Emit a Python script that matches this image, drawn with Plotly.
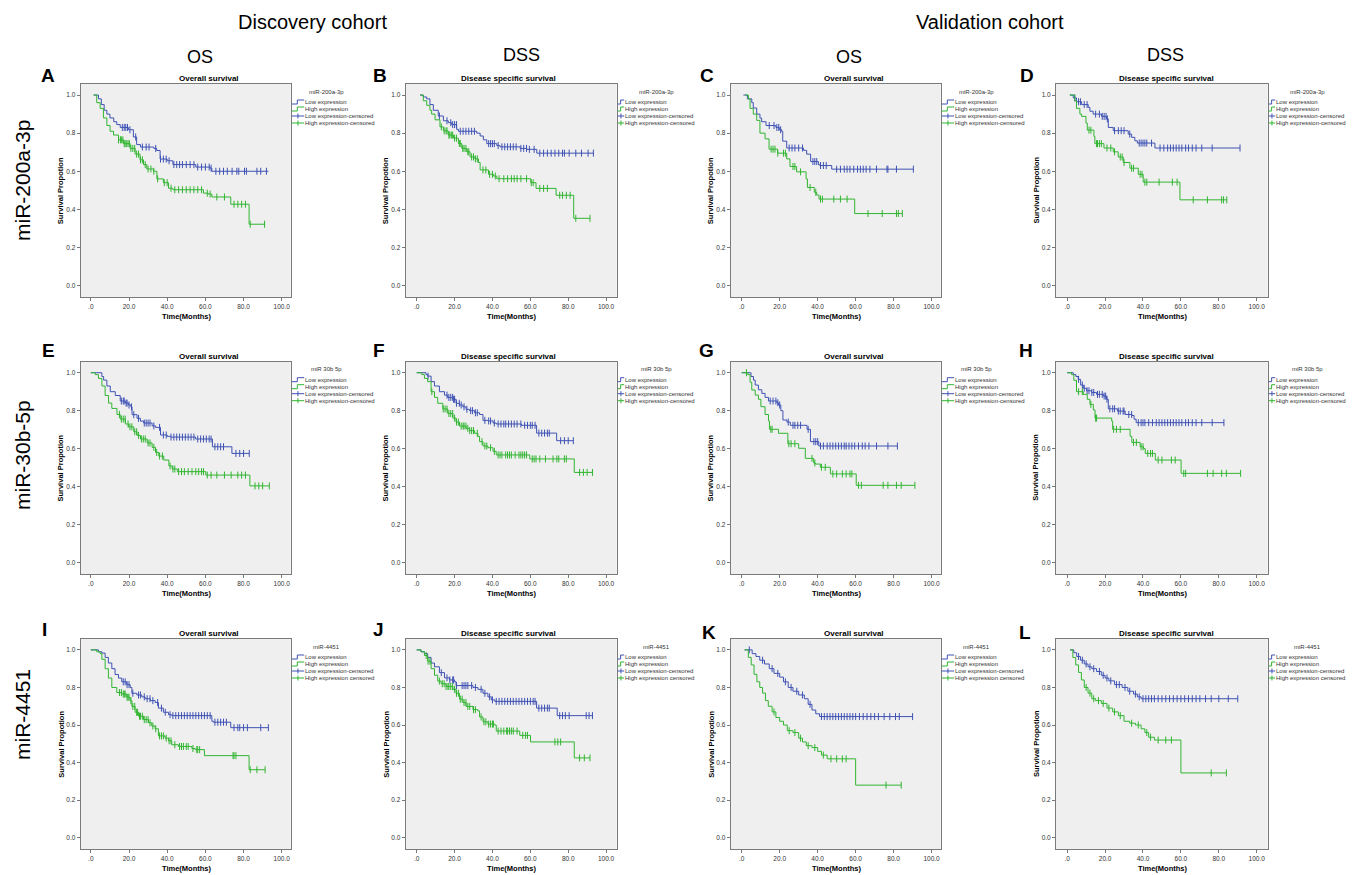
import plotly.graph_objects as go

W, H = 1358, 875
BLUE = '#3f52b4'
GREEN = '#31b531'
FONT = 'Arial, Liberation Sans, sans-serif'

# ---------------- data: step times (months), survival after step, censor times ----------------
# Panel A  (miR-200a-3p, discovery, OS)
A_low_range = (1.5, 93.0)
A_low_t = [4, 5.5, 7, 8.4, 10, 12, 13.6, 15.4, 19.7, 22.3, 24, 26, 33, 34.5, 36.3, 40, 43, 55, 62.5, 63.4]
A_low_s = [0.98, 0.95, 0.92, 0.90, 0.88, 0.86, 0.845, 0.83, 0.818, 0.78, 0.74, 0.727, 0.72, 0.709, 0.664, 0.655, 0.635, 0.622, 0.616, 0.60]
A_low_c = [16.5, 17.5, 18.3, 19.2, 20.5, 23.5, 27, 29, 30.5, 34, 36.5, 38, 39.5, 41, 43.5, 45, 46.5, 48, 50, 52, 54, 56, 58, 60, 62, 63, 65.5, 67.5, 69.5, 71.5, 74, 76.5, 77.5, 80.5, 81.5, 87, 89, 92]
A_high_range = (1.4, 91.3)
A_high_t = [3.1, 4.9, 6.6, 8.4, 10.1, 11.9, 14.5, 17.1, 20.6, 23.2, 25.8, 27.6, 29.3, 32.8, 34.6, 38, 40.7, 43, 59, 61.6, 63.4, 73.3, 82.9]
A_high_s = [0.96, 0.93, 0.88, 0.84, 0.81, 0.79, 0.765, 0.745, 0.72, 0.69, 0.66, 0.635, 0.612, 0.60, 0.56, 0.54, 0.511, 0.503, 0.485, 0.48, 0.465, 0.427, 0.322]
A_high_c = [14.5, 15.5, 16, 16.8, 17.5, 18, 18.8, 19.5, 20.2, 21, 22, 23, 24, 25, 26, 27, 28.5, 30, 31.5, 33, 35, 38.5, 40, 42, 44, 46, 48, 50, 52, 54, 56, 58, 61, 62.5, 66, 70, 75, 77, 79, 81, 83.5, 91]

# Panel B  (miR-200a-3p, discovery, DSS)
B_low_range = (1.8, 93.3)
B_low_t = [3.5, 5.3, 7, 8.8, 11.4, 14.1, 16.7, 18.5, 21.1, 22, 31.7, 33.5, 35.2, 37, 42.3, 44, 54.6, 58.1, 63.4]
B_low_s = [0.99, 0.98, 0.95, 0.92, 0.89, 0.865, 0.855, 0.845, 0.82, 0.81, 0.80, 0.785, 0.765, 0.745, 0.735, 0.728, 0.72, 0.715, 0.695]
B_low_c = [12, 16, 18, 19, 20, 21, 23, 24.5, 26, 27.5, 29, 30.5, 38, 39, 40, 41, 43, 45, 46.5, 48, 49.5, 51, 52.5, 55, 56.5, 58, 59.5, 62, 65, 67, 69, 71, 73, 75, 77, 78, 80.5, 84, 87, 90.5, 93.3]
B_high_range = (1.8, 91.5)
B_high_t = [3.5, 5.3, 7, 7.9, 9.7, 12.3, 14.1, 16.7, 19.4, 22, 23.8, 26.4, 28.2, 30.8, 32.6, 33.5, 37.9, 40.5, 42.3, 60.2, 63, 73.6, 82.9]
B_high_s = [0.97, 0.946, 0.92, 0.90, 0.87, 0.833, 0.812, 0.79, 0.774, 0.746, 0.72, 0.702, 0.675, 0.665, 0.646, 0.607, 0.584, 0.575, 0.561, 0.54, 0.51, 0.474, 0.353]
B_high_c = [13, 14.5, 15.5, 16, 17, 17.5, 18.3, 19, 20, 21, 22.5, 23, 24.3, 25, 26, 27, 27.5, 29, 30, 31, 32, 35, 36.5, 38.5, 40, 41.5, 43.5, 46, 48, 50, 51.5, 53, 55, 58, 60.5, 61.5, 65, 67, 69, 75.5, 77, 79, 81, 84, 91.5]

# Panel C  (miR-200a-3p, validation, OS)
C_low_range = (0.9, 90.4)
C_low_t = [3, 5.3, 6.1, 7.9, 9.6, 10.5, 12.8, 18, 19.8, 21, 21.6, 23.7, 32.5, 34.2, 36.3, 40.4, 41.2, 47.4]
C_low_s = [0.98, 0.96, 0.932, 0.90, 0.879, 0.86, 0.84, 0.83, 0.818, 0.81, 0.758, 0.722, 0.71, 0.69, 0.651, 0.634, 0.63, 0.611]
C_low_c = [14.5, 17, 18.5, 19.5, 20.5, 25, 26.5, 28, 30, 32, 37.5, 38.5, 39.5, 41.5, 43, 44.5, 50, 52, 54, 55.5, 57, 59, 61, 62.5, 64, 65.5, 67.5, 71, 76.5, 77, 81.5, 90.4]
C_high_range = (1.75, 84.6)
C_high_t = [3.5, 4.4, 6.1, 7.9, 9.6, 12.3, 14.4, 18.9, 23.7, 25.4, 28.9, 33.9, 34.6, 38.2, 39.5, 40.7, 59.5]
C_high_s = [0.98, 0.93, 0.90, 0.867, 0.80, 0.77, 0.716, 0.695, 0.665, 0.625, 0.597, 0.56, 0.515, 0.49, 0.475, 0.454, 0.378]
C_high_c = [15.5, 16.5, 17.5, 19, 22, 23, 27, 28, 31, 36, 39, 41.5, 42.5, 48.5, 52, 55.5, 66.5, 74, 81.5, 82.5, 84.6]

# Panel D  (miR-200a-3p, validation, DSS)
D_low_range = (1.4, 91.2)
D_low_t = [3.2, 4.9, 7.6, 11.1, 12, 13.7, 18.1, 20.8, 21.7, 24.3, 32.2, 34, 35.7, 37, 46.3]
D_low_s = [0.985, 0.965, 0.95, 0.935, 0.915, 0.90, 0.888, 0.875, 0.83, 0.813, 0.795, 0.778, 0.76, 0.748, 0.722]
D_low_c = [4, 6, 7, 9, 10.5, 15, 17, 18.5, 19.5, 20.5, 21.2, 25, 27, 28.5, 30, 33, 38, 39, 40, 41, 42, 44.5, 49, 51, 53, 54.5, 56, 57.5, 59, 60.5, 62.5, 64, 66, 68, 71, 76.5, 91.2]
D_high_range = (1.4, 84.2)
D_high_t = [4, 4.9, 6.7, 7.6, 9.9, 10.6, 14.1, 14.6, 19.4, 24.3, 26.9, 29.6, 33.1, 37.5, 40.1, 59.5]
D_high_s = [0.97, 0.93, 0.90, 0.888, 0.853, 0.816, 0.783, 0.745, 0.722, 0.702, 0.675, 0.646, 0.616, 0.584, 0.543, 0.45]
D_high_c = [11.5, 12.5, 15.5, 16, 17, 18, 21, 23, 25, 28, 29, 30, 34, 35, 38.5, 39.5, 41, 42, 48.5, 55.5, 58, 66.5, 74, 81.5, 82.5, 84.2]

# Panel E  (miR-30b-5p, discovery, OS)
E_low_range = (0.0, 83.0)
E_low_t = [5.8, 6.7, 8.4, 10.2, 12.8, 15.4, 18.1, 19.8, 21, 21.6, 24.2, 26, 27.7, 32.1, 33.9, 36.5, 40, 41.8, 54.9, 63.7, 73.9]
E_low_s = [0.98, 0.961, 0.93, 0.90, 0.88, 0.851, 0.84, 0.83, 0.82, 0.779, 0.76, 0.745, 0.735, 0.72, 0.712, 0.672, 0.665, 0.661, 0.651, 0.61, 0.575]
E_low_c = [16, 17, 17.5, 18.5, 19, 20, 21.3, 22.5, 25, 28, 29, 30, 31, 33, 36, 38, 39.5, 42, 43.5, 45, 46.5, 48, 49.5, 51, 52.5, 54, 56, 57.5, 59, 60.5, 62, 63, 65, 66.5, 68, 69.5, 76, 78, 80, 83]
E_high_range = (0.0, 93.5)
E_high_t = [2.3, 4, 5.8, 7.5, 9.3, 11, 13.7, 15.4, 18.1, 19.8, 22.5, 24.2, 26, 29.5, 32.1, 33.9, 35.6, 38.2, 40.9, 42.6, 45.3, 60.2, 83.3]
E_high_s = [0.99, 0.97, 0.93, 0.88, 0.84, 0.812, 0.78, 0.756, 0.73, 0.715, 0.689, 0.67, 0.651, 0.63, 0.607, 0.58, 0.561, 0.54, 0.509, 0.493, 0.479, 0.461, 0.404]
E_high_c = [15, 16, 17, 18, 19.5, 20.5, 21.5, 23, 24, 25, 26.5, 27.5, 28.5, 30, 31, 33, 34.5, 36, 37.5, 41.5, 43, 44, 46, 47.5, 49, 51, 53, 55, 56.5, 58, 59, 61, 63, 66, 70, 73.5, 77, 79, 81, 86, 88, 90, 93.5]

# Panel F  (miR-30b-5p, discovery, DSS)
F_low_range = (0.0, 82.7)
F_low_t = [4.9, 5.8, 7.6, 9.4, 12, 14.7, 16.4, 19.1, 20.8, 22.6, 24.4, 26.1, 27.9, 30.6, 33.2, 35, 37.6, 40.3, 42, 55.3, 63.3, 73.9]
F_low_s = [0.99, 0.982, 0.953, 0.93, 0.90, 0.882, 0.87, 0.86, 0.839, 0.83, 0.82, 0.807, 0.80, 0.789, 0.78, 0.749, 0.746, 0.735, 0.73, 0.723, 0.682, 0.642]
F_low_c = [6, 16, 17, 18, 19, 19.5, 20, 21, 22.5, 23.5, 25, 26.5, 28.5, 29.5, 31, 32, 36, 38, 39, 41, 43, 44.5, 46, 47, 48.5, 50, 51.5, 53, 55, 57, 58.5, 60, 61, 62.5, 64.5, 66, 67.5, 69, 70, 76, 78, 80, 82.7]
F_high_range = (0.0, 92.8)
F_high_t = [2.7, 4.1, 5.8, 7.6, 9.4, 11.1, 13.8, 16.4, 19.1, 20.8, 22.6, 26.1, 27.9, 30.6, 32.3, 33.2, 35, 37.6, 40.3, 42, 59.7, 83.2]
F_high_s = [0.99, 0.97, 0.953, 0.90, 0.87, 0.839, 0.809, 0.785, 0.761, 0.74, 0.719, 0.707, 0.695, 0.681, 0.665, 0.637, 0.614, 0.605, 0.586, 0.567, 0.546, 0.475]
F_high_c = [8, 14, 15, 16, 17, 18, 19, 20, 21, 22, 23.5, 24.5, 25, 26, 27, 28, 29, 30, 32, 34.5, 36, 37, 39, 41, 43, 44, 45, 47, 48, 49, 50, 52, 54, 55, 56, 57, 58, 61, 62, 63, 65, 68, 72, 74, 75, 78, 79, 86, 88, 90, 92.8]

# Panel G  (miR-30b-5p, validation, OS)
G_low_range = (0.0, 82.0)
G_low_t = [4.9, 6.2, 7.1, 8.8, 10.6, 12.3, 14.1, 18.5, 19.4, 20.6, 21.7, 23.8, 25.6, 34.4, 36.2, 40.6]
G_low_s = [0.98, 0.961, 0.935, 0.91, 0.891, 0.87, 0.851, 0.842, 0.83, 0.80, 0.751, 0.74, 0.723, 0.702, 0.637, 0.614]
G_low_c = [15, 16.5, 18, 19, 20, 24.5, 27, 28, 29.5, 31, 35, 38, 39, 40, 41.5, 43, 45, 46.5, 48, 49.5, 51, 52.5, 54, 55, 56.5, 58, 59.5, 61.5, 63.5, 65, 67, 71, 77, 82]
G_high_range = (0.0, 91.2)
G_high_t = [3.2, 4.4, 5.3, 7.1, 8.8, 10.1, 12.3, 14.1, 14.6, 19.4, 24.3, 30, 33.5, 37.9, 38.8, 41.4, 46.7, 60.3]
G_high_s = [0.99, 0.95, 0.909, 0.882, 0.86, 0.821, 0.78, 0.746, 0.702, 0.681, 0.626, 0.602, 0.549, 0.525, 0.519, 0.502, 0.467, 0.407]
G_high_c = [2.5, 15.3, 16, 24.8, 26, 28, 37, 38.5, 42, 44, 48, 50, 53, 55, 57, 58, 61.5, 63, 74.5, 77, 81.5, 84, 91.2]

# Panel H  (miR-30b-5p, validation, DSS)
H_low_range = (0.0, 82.7)
H_low_t = [3.2, 4.6, 5.8, 7.1, 8.5, 10.2, 12.9, 15.5, 19.1, 20.8, 21.7, 26.5, 30.6, 34.1, 35.3, 36.4]
H_low_s = [0.99, 0.98, 0.965, 0.935, 0.918, 0.905, 0.896, 0.886, 0.877, 0.86, 0.81, 0.798, 0.78, 0.775, 0.755, 0.737]
H_low_c = [6, 8, 9, 10.5, 11.5, 13, 14, 16, 17, 18.5, 19.5, 20.3, 21, 22.5, 24, 25, 27, 28, 29.5, 30, 32.5, 34, 37.5, 39, 40, 41, 43, 45, 47, 48.5, 50, 51.5, 53, 54.5, 56, 57.5, 59, 60.5, 62.5, 64, 66, 68, 71, 76.5, 82.7]
H_high_range = (0.0, 91.5)
H_high_t = [2.3, 3.5, 4.9, 8.5, 10.6, 12, 13.8, 14.7, 23.5, 24, 33.2, 34.1, 38.5, 40.3, 41.2, 46.5, 60.1]
H_high_s = [0.99, 0.96, 0.90, 0.886, 0.86, 0.833, 0.804, 0.761, 0.745, 0.702, 0.665, 0.633, 0.61, 0.60, 0.575, 0.54, 0.47]
H_high_c = [6, 8, 12.5, 15, 15.5, 24.5, 26, 28, 35, 36.5, 39, 40, 42.5, 44, 45, 48, 50, 55, 57, 61.5, 62.5, 74, 77, 81.5, 84, 91.5]

# Panel I  (miR-4451, discovery, OS)
I_low_range = (0.0, 93.0)
I_low_t = [4, 5.8, 7.5, 9.2, 11, 12.7, 14.5, 16.2, 18.8, 20.6, 21.5, 24.1, 26.7, 28.4, 31.1, 33.7, 35.4, 38, 40.7, 42.4, 63.4, 64.2, 73.3]
I_low_s = [0.99, 0.983, 0.96, 0.93, 0.90, 0.869, 0.85, 0.83, 0.815, 0.80, 0.769, 0.76, 0.75, 0.74, 0.73, 0.72, 0.69, 0.668, 0.655, 0.65, 0.62, 0.615, 0.586]
I_low_c = [17, 18, 19, 20, 22, 25, 26, 28, 29.5, 31, 32.5, 35, 37, 39, 41.5, 43, 44.5, 46, 47.5, 49, 50.5, 52, 53.5, 55, 56.5, 58, 59.5, 61, 62.5, 65, 66.5, 68, 69.5, 71, 75, 77, 78, 80, 82, 89, 93]
I_high_range = (0.0, 91.3)
I_high_t = [3.1, 4.9, 5.8, 7.5, 9.2, 11, 13.6, 16.2, 18.8, 20.6, 21.5, 23.2, 25, 27.6, 30.2, 31.9, 33.7, 35.4, 38.9, 40.7, 42.4, 45.9, 52.9, 54.6, 59.5, 82.9]
I_high_s = [0.99, 0.98, 0.95, 0.90, 0.85, 0.80, 0.773, 0.765, 0.748, 0.73, 0.699, 0.668, 0.647, 0.629, 0.612, 0.595, 0.58, 0.542, 0.53, 0.516, 0.495, 0.486, 0.475, 0.469, 0.437, 0.362]
I_high_c = [15, 16, 17, 17.5, 18, 19, 19.5, 20, 21, 22, 23, 24, 24.5, 25.5, 26, 27, 28, 29, 30, 31, 32.5, 34, 36, 37, 38, 39.5, 41, 42, 44, 46.5, 47.5, 48.5, 50, 51, 53.5, 55.5, 56, 57, 74.5, 75, 76, 83.5, 87, 91.3]

# Panel J  (miR-4451, discovery, DSS)
J_low_range = (0.0, 92.8)
J_low_t = [2.3, 4.1, 5.8, 7.6, 9.4, 12, 14.7, 17.3, 20, 20.8, 29.7, 32.3, 35, 37.6, 39.4, 41.2, 63.3, 74.2]
J_low_s = [0.99, 0.98, 0.96, 0.93, 0.91, 0.879, 0.851, 0.84, 0.83, 0.81, 0.80, 0.79, 0.769, 0.75, 0.734, 0.726, 0.69, 0.65]
J_low_c = [13, 16, 17.5, 19, 19.5, 21, 24, 25, 26, 27, 29, 31, 34, 36, 38.5, 40, 42, 43.5, 45, 46.5, 48, 49.5, 51, 52.5, 54, 55.5, 57, 58.5, 60, 61.5, 62.5, 64.5, 66, 67.5, 69, 70, 75.5, 77, 78.5, 80.5, 89.5, 91, 92.8]
J_high_range = (0.0, 91.5)
J_high_t = [2.3, 4.1, 5.8, 7.6, 9.4, 11.1, 12.9, 15.5, 19.1, 20.8, 22.6, 24.4, 26.1, 29.7, 32.3, 33.2, 35, 37.6, 41.2, 42, 54.4, 60.1, 83.2]
J_high_s = [0.99, 0.97, 0.94, 0.90, 0.865, 0.834, 0.82, 0.805, 0.79, 0.769, 0.738, 0.72, 0.699, 0.682, 0.675, 0.643, 0.617, 0.605, 0.60, 0.568, 0.545, 0.51, 0.425]
J_high_c = [5, 6, 7, 12, 13.5, 14.5, 15.5, 16.5, 17, 18, 19, 20, 21, 22, 23, 24, 25, 26, 27, 28, 30, 31, 34, 35.5, 36.5, 38, 39, 40, 40.5, 43, 44.5, 46, 47.5, 48, 49, 50, 51, 53, 56, 57.5, 58.5, 73, 74.5, 76, 86, 88.5, 91.5]

# Panel K  (miR-4451, validation, OS)
K_low_range = (1.5, 90.0)
K_low_t = [5.5, 7.5, 9.5, 12, 14.5, 17, 20, 22, 24.5, 27, 30, 33, 35, 37, 39, 41]
K_low_s = [0.98, 0.965, 0.945, 0.925, 0.90, 0.875, 0.855, 0.83, 0.80, 0.78, 0.76, 0.74, 0.71, 0.68, 0.66, 0.645]
K_low_c = [4, 11, 16, 19, 23, 26, 29, 32, 36, 42, 43.5, 45, 46.5, 48, 49.5, 51, 52.5, 54, 55.5, 57, 58.5, 60, 62, 64, 66, 68, 70, 72, 75, 78, 81, 83, 90]
K_high_range = (1.5, 84.0)
K_high_t = [3.5, 5, 6.5, 8, 9.5, 11, 12.5, 14, 16, 18, 20, 22, 24, 27, 30, 32, 34, 37, 40, 42, 45, 60]
K_high_s = [0.96, 0.92, 0.87, 0.83, 0.80, 0.77, 0.73, 0.70, 0.67, 0.64, 0.62, 0.60, 0.57, 0.56, 0.53, 0.51, 0.49, 0.48, 0.46, 0.44, 0.42, 0.28]
K_high_c = [17, 25, 28, 31, 35, 38.5, 43, 47, 50, 53, 55, 76, 84]

# Panel L  (miR-4451, validation, DSS)
L_low_range = (1.5, 90.0)
L_low_t = [3.5, 5, 7, 9, 11, 13, 15.5, 18, 20, 22, 25, 29, 32, 35, 37, 39]
L_low_s = [0.985, 0.965, 0.945, 0.925, 0.91, 0.90, 0.885, 0.865, 0.85, 0.835, 0.815, 0.80, 0.78, 0.765, 0.75, 0.74]
L_low_c = [6, 8, 10, 12, 14, 17, 19, 21, 23, 26, 27.5, 30.5, 33, 36, 38, 40, 41.5, 43, 44.5, 46, 48, 50, 52, 54, 56, 58, 60, 62, 64, 66, 68, 70, 73, 76, 80, 85, 90]
L_high_range = (1.5, 84.0)
L_high_t = [3, 4.5, 6, 7.5, 9, 11, 13, 15, 18, 21, 24, 27, 30, 33, 36, 39, 41, 43, 46, 60]
L_high_s = [0.96, 0.92, 0.88, 0.84, 0.80, 0.77, 0.74, 0.73, 0.715, 0.69, 0.67, 0.65, 0.62, 0.61, 0.60, 0.58, 0.56, 0.535, 0.52, 0.345]
L_high_c = [10, 12, 14, 16.5, 19, 22, 25, 28, 34, 37.5, 42, 44, 48, 52, 55, 76, 84]

# ---------------- labels ----------------
PANEL_IDS = list('ABCDEFGHIJKL')
PANEL_TITLES = ['Overall survival', 'Disease specific survival'] * 6
LEGEND_TITLES = ['miR-200a-3p'] * 4 + ['miR 30b 5p'] * 4 + ['miR-4451'] * 4
LEGEND_LABELS = ['Low expression', 'High expression', 'Low expression-censored', 'High expression-censored']
LEGEND_LABELS_ROW3 = ['Low expression', 'High expression', 'Low expression-censored', 'High expression censored']
X_TICKS = [0, 20, 40, 60, 80, 100]
X_TICKTEXT = ['.0', '20.0', '40.0', '60.0', '80.0', '100.0']
Y_TICKS = [0, 0.2, 0.4, 0.6, 0.8, 1.0]
Y_TICKTEXT = ['0.0', '0.2', '0.4', '0.6', '0.8', '1.0']
COHORTS = ['Discovery cohort', 'Validation cohort']
ENDPOINTS = ['OS', 'DSS', 'OS', 'DSS']
ROW_LABELS = ['miR-200a-3p', 'miR-30b-5p', 'miR-4451']

g = globals()
DATA = {p: {grp: (g[f'{p}_{grp}_range'], g[f'{p}_{grp}_t'], g[f'{p}_{grp}_s'], g[f'{p}_{grp}_c'])
            for grp in ('low', 'high')} for p in PANEL_IDS}

# ---------------- layout geometry (pixels) ----------------
COL_L = [80.7, 405.7, 730.7, 1056.0]
COL_R = [290.7, 616.7, 940.7, 1267.7]
ROW_T = [84.0, 361.7, 639.0]
ROW_B = [297.0, 574.0, 849.0]
X_RANGES = [[-5.3, 104.7], [-5.8, 105.6], [-5.8, 104.8], [-5.9, 105.8]]
Y_RANGE = [-0.06, 1.058]
TITLE_CX = [209, 508, 854, 1166.7]
LEG_TITLE_DX = [36, 39.5, 36, 39.5]
LEG_TEXT_DX = [12.5, 6.5, 12.5, 6.5]
LETTER_POS = [(48.3, 75), (380, 75), (706.7, 75), (1026.5, 75),
              (48, 350), (379, 350), (706.5, 350), (1026, 350),
              (44, 629.5), (378, 629.5), (709, 632), (1025, 632)]


def px(x):
    return x / W


def py(y):
    return 1 - y / H


def surv_at(t, times, surv):
    s = 1.0
    for ti, si in zip(times, surv):
        if ti <= t:
            s = si
    return s


def ann(x, y, text, size, bold=False, xanchor='center', angle=0, color='black'):
    return dict(x=px(x), y=py(y), xref='paper', yref='paper', showarrow=False,
                text=f'<b>{text}</b>' if bold else text, xanchor=xanchor, yanchor='middle',
                textangle=angle, font=dict(family=FONT, size=size, color=color))


fig = go.Figure()
annotations = []
shapes = []
layout = {}

for i, pid in enumerate(PANEL_IDS):
    r, c = divmod(i, 4)
    n = i + 1
    xa, ya = ('x', 'y') if n == 1 else (f'x{n}', f'y{n}')
    for grp, color in (('low', BLUE), ('high', GREEN)):
        (t0, tend), times, surv, cens = DATA[pid][grp]
        fig.add_trace(go.Scatter(
            x=[t0] + times + [tend], y=[1.0] + surv + [surv[-1]],
            mode='lines', line=dict(color=color, width=1, shape='hv'),
            xaxis=xa, yaxis=ya, showlegend=False, hoverinfo='skip'))
        fig.add_trace(go.Scatter(
            x=cens, y=[surv_at(t, times, surv) for t in cens],
            mode='markers', marker=dict(symbol='line-ns', size=5, line=dict(color=color, width=1)),
            xaxis=xa, yaxis=ya, showlegend=False, hoverinfo='skip'))

    L, R, T, B = COL_L[c], COL_R[c], ROW_T[r], ROW_B[r]
    common = dict(ticks='outside', ticklen=3, tickwidth=1, tickcolor='#777', showline=True,
                  linecolor='#7a7a7a', linewidth=1, mirror=True, showgrid=False, zeroline=False,
                  tickfont=dict(family=FONT, size=6.5, color='#333'), fixedrange=True)
    layout['xaxis' if n == 1 else f'xaxis{n}'] = dict(
        domain=[px(L), px(R)], range=X_RANGES[c], anchor=ya,
        tickvals=X_TICKS, ticktext=X_TICKTEXT, **common)
    layout['yaxis' if n == 1 else f'yaxis{n}'] = dict(
        domain=[py(B), py(T)], range=Y_RANGE, anchor=xa,
        tickvals=Y_TICKS, ticktext=Y_TICKTEXT, **common)

    # panel texts
    annotations.append(ann(TITLE_CX[c], T - 5.5, PANEL_TITLES[i], 8, bold=True))
    annotations.append(ann((L + R) / 2 + 1, B + 19, 'Time(Months)', 7.5, bold=True))
    annotations.append(ann(L - 20, (T + B) / 2, 'Survival Propotion', 7.5, bold=True, angle=-90))
    lx, ly = LETTER_POS[i]
    annotations.append(ann(lx, ly, pid, 19, bold=True))

    # legend
    annotations.append(ann(R + LEG_TITLE_DX[c], T + 7.7, LEGEND_TITLES[i], 6, color='#333'))
    labels = LEGEND_LABELS_ROW3 if r == 2 else LEGEND_LABELS
    tx = R + LEG_TEXT_DX[c]
    for k, lab in enumerate(labels):
        yk = T + 18 + 7 * k
        col = BLUE if k % 2 == 0 else GREEN
        annotations.append(ann(tx, yk, lab, 6, xanchor='left', color='#333'))
        x0, x1 = R + 1, tx + 1
        if k < 2:
            xm = x0 + (x1 - x0) * 0.45
            path = (f'M {px(x0)} {py(yk + 2)} L {px(xm)} {py(yk + 2)} L {px(xm)} {py(yk - 2)} '
                    f'L {px(x1)} {py(yk - 2)}')
            shapes.append(dict(type='path', xref='paper', yref='paper', path=path,
                               line=dict(color=col, width=1)))
        else:
            shapes.append(dict(type='line', xref='paper', yref='paper', x0=px(x0), x1=px(x1),
                               y0=py(yk), y1=py(yk), line=dict(color=col, width=1)))
            xm = (x0 + x1) / 2
            shapes.append(dict(type='line', xref='paper', yref='paper', x0=px(xm), x1=px(xm),
                               y0=py(yk - 2.5), y1=py(yk + 2.5), line=dict(color=col, width=1)))

# headers
annotations.append(ann(312, 22, COHORTS[0], 20))
annotations.append(ann(990, 22, COHORTS[1], 20))
for cx, cy, txt in zip([200, 521, 849, 1165], [57, 55, 57, 55], ENDPOINTS):
    annotations.append(ann(cx, cy, txt, 18))
for cy, txt in zip([181, 455, 715], ROW_LABELS):
    annotations.append(ann(22, cy, txt, 21, angle=-90))

fig.update_layout(
    width=W, height=H, margin=dict(l=0, r=0, t=0, b=0),
    paper_bgcolor='white', plot_bgcolor='#efefef',
    annotations=annotations, shapes=shapes, showlegend=False, **layout)

fig.write_html('out.html', config={'displayModeBar': False},
               post_script="document.body.style.margin='0';document.body.style.overflow='hidden';")
